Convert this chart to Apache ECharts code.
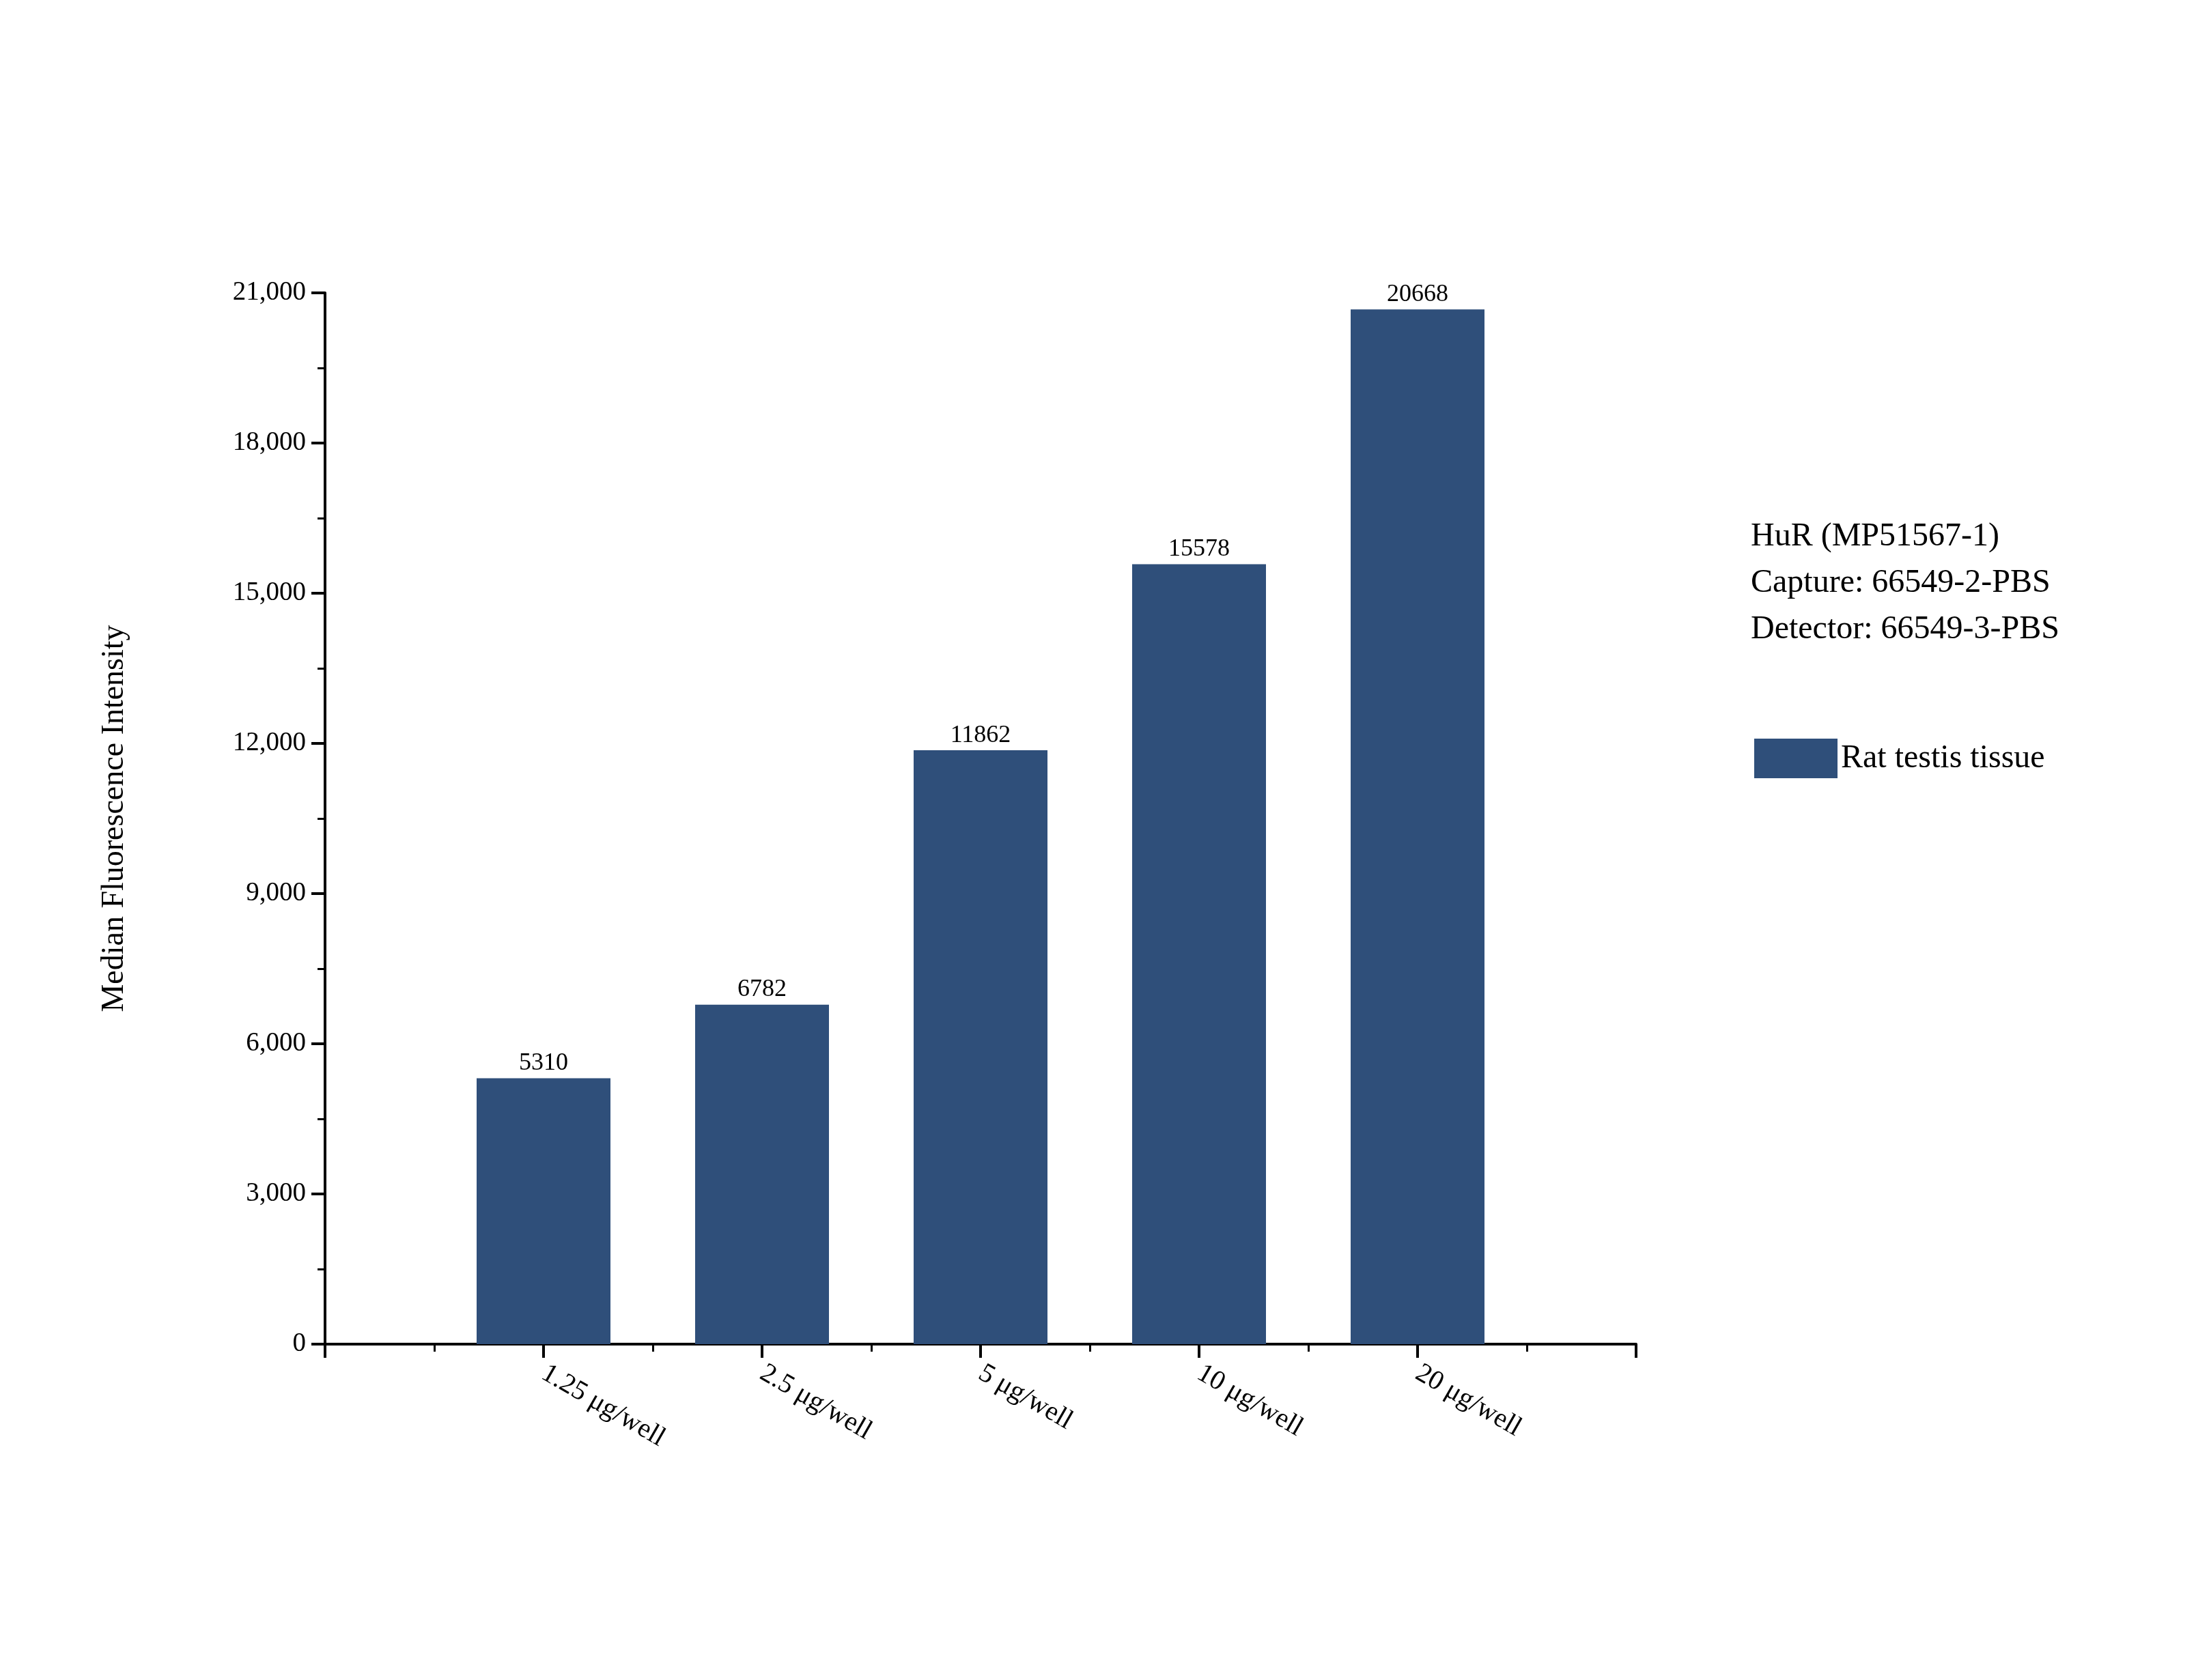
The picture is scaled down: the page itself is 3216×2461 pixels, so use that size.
<!DOCTYPE html>
<html><head><meta charset="utf-8">
<script src="https://cdn.jsdelivr.net/npm/echarts@6/dist/echarts.min.js"></script>
<style>html,body{margin:0;background:#fff}#c{width:3216px;height:2461px}</style>
</head><body><div id="c"></div>
<script>
const categories = ['', '1.25 μg/well', '2.5 μg/well', '5 μg/well', '10 μg/well', '20 μg/well', ''];
const values = [5310, 6782, 11862, 15578, 20668];
const seriesName = 'Rat testis tissue';
const infoLines = ['HuR (MP51567-1)', 'Capture: 66549-2-PBS', 'Detector: 66549-3-PBS'];
const font = 'Liberation Serif';
const chart = echarts.init(document.getElementById('c'));
chart.setOption({
  animation: false,
  grid: {left: 476, right: 820, top: 429, bottom: 492},
  xAxis: {
    type: 'value', min: 0, max: 6, interval: 1,
    splitLine: {show: false},
    axisLine: {lineStyle: {color: '#000', width: 4}},
    axisTick: {length: 20, lineStyle: {color: '#000', width: 4}},
    minorTick: {show: true, splitNumber: 2, length: 11, lineStyle: {color: '#000', width: 3}},
    axisLabel: {formatter: v => categories[v] || '', rotate: -30, fontFamily: font, fontSize: 40, color: '#000', margin: 40, align: 'left'}
  },
  yAxis: {
    type: 'value', min: 0, max: 21000, interval: 3000,
    name: 'Median Fluorescence Intensity', nameLocation: 'middle', nameGap: 285, nameRotate: 90,
    nameTextStyle: {fontFamily: font, fontSize: 46, color: '#000'},
    splitLine: {show: false},
    axisLine: {show: true, lineStyle: {color: '#000', width: 4}},
    axisTick: {inside: false, length: 20, lineStyle: {color: '#000', width: 4}},
    minorTick: {show: true, splitNumber: 2, length: 11, lineStyle: {color: '#000', width: 3}},
    axisLabel: {fontFamily: font, fontSize: 39, color: '#000', margin: 28}
  },
  legend: {
    data: [seriesName], left: 2564, top: 1077, orient: 'vertical',
    itemWidth: 122, itemHeight: 58, itemGap: 10, icon: 'rect',
    textStyle: {fontFamily: font, fontSize: 48, color: '#000', padding: [0,0,0,0]}
  },
  graphic: [{
    type: 'text', left: 2564, top: 752,
    style: {text: infoLines.join('\n'), font: '48px "Liberation Serif"', fill: '#000', lineHeight: 68}
  }],
  series: [{
    name: seriesName, type: 'bar', barWidth: 196,
    itemStyle: {color: '#2f4f7a'},
    label: {show: true, position: 'top', fontFamily: font, fontSize: 36, color: '#000', distance: 4},
    data: values.map((v, i) => [i + 1, v])
  }]
});
</script></body></html>
